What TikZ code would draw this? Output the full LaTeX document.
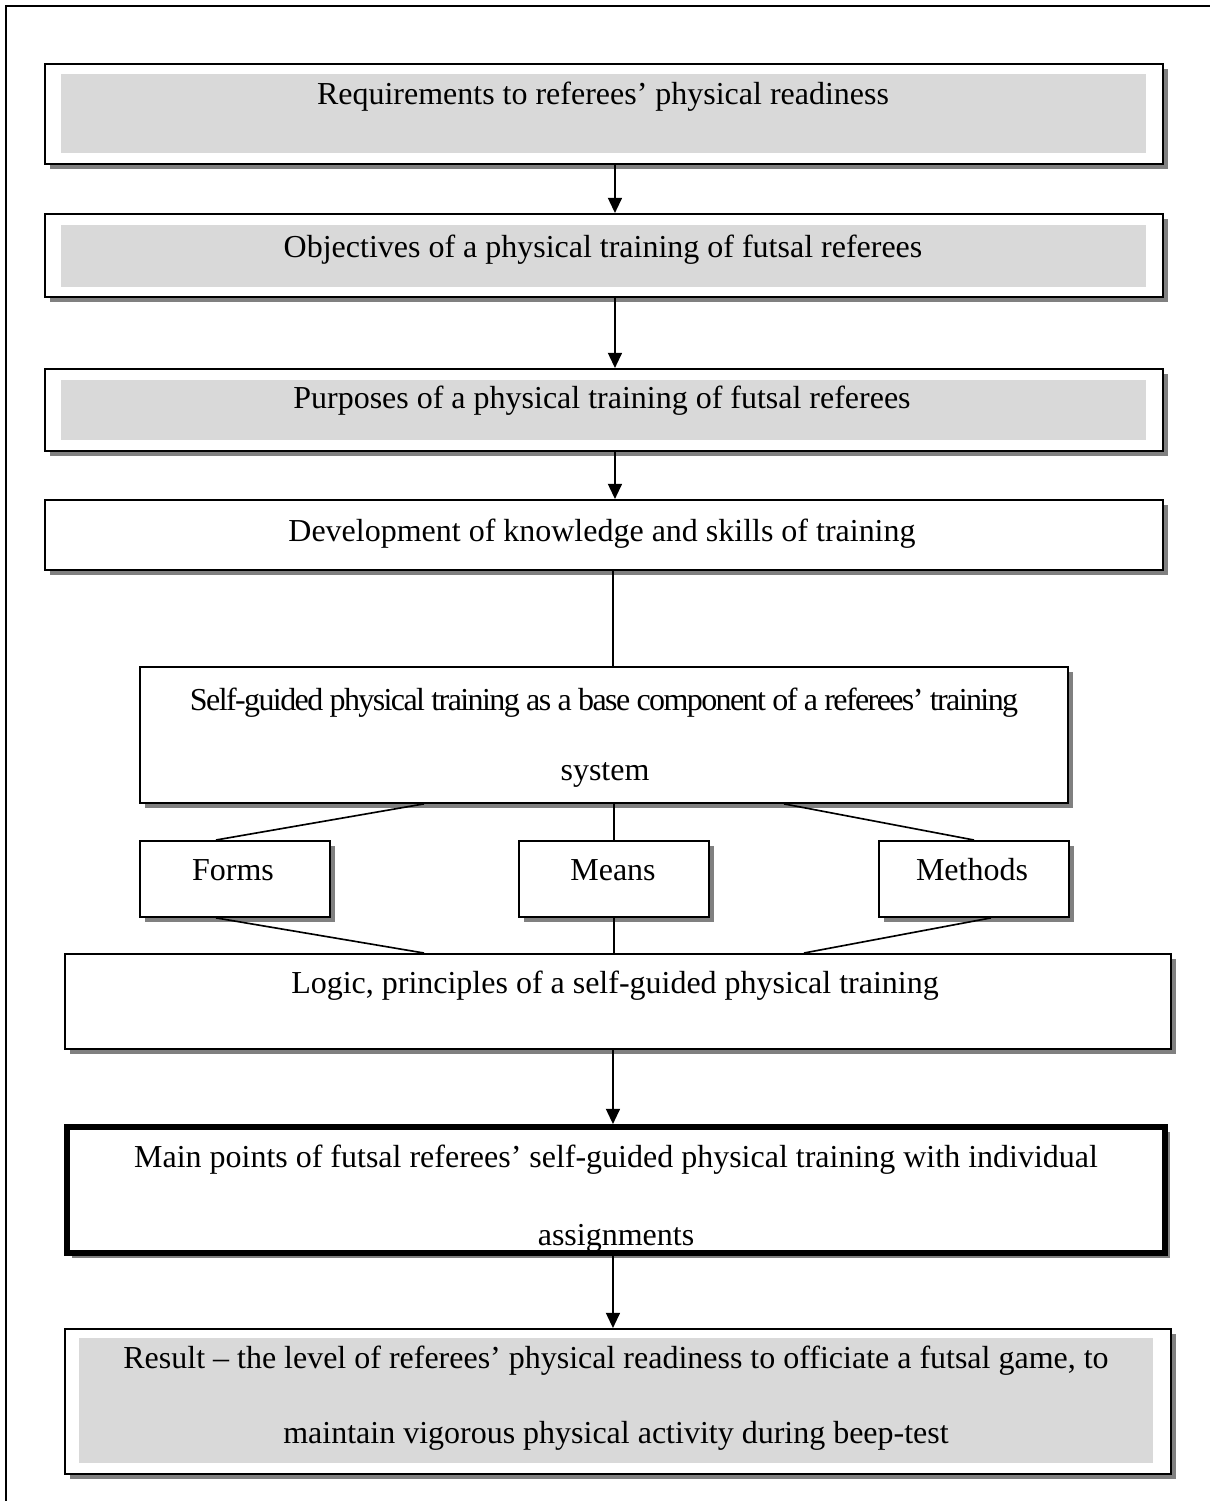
\documentclass[tikz,border=0pt]{standalone}
\usepackage{fontspec}
\setmainfont{Liberation Serif}
\usetikzlibrary{arrows.meta,shadows}

\tikzset{
  box/.style={draw, line width=1.6pt, fill=white, anchor=north west, inner sep=0pt,
    drop shadow={shadow xshift=0.15cm, shadow yshift=-0.15cm, fill=black!50, opacity=1}},
  thickbox/.style={box, line width=5pt},
  txt/.style={anchor=base, inner sep=0pt, font=\fontsize{27.3}{33}\selectfont},
  arr/.style={-{Triangle[length=13pt,width=12pt]}, line width=1.4pt},
  link/.style={line width=1.4pt}
}

\begin{document}
\begin{tikzpicture}[x=0.03cm,y=-0.03cm]
  \useasboundingbox (0,0) rectangle (1210,1501);
  \draw[line width=2pt] (6,1501) -- (6,6) -- (1210,6);

  % boxes
  \node[box, minimum width=33.54cm, minimum height=3.0cm] (req) at (44,63) {};
  \node[box, minimum width=33.54cm, minimum height=2.5cm] (obj) at (44,213) {};
  \node[box, minimum width=33.54cm, minimum height=2.46cm] (pur) at (44,368) {};
  \node[box, minimum width=33.54cm, minimum height=2.1cm] (dev) at (44,499) {};
  \node[box, minimum width=27.84cm, minimum height=4.08cm] (sgt) at (139,666) {};
  \node[box, minimum width=5.7cm, minimum height=2.28cm] (forms) at (139,840) {};
  \node[box, minimum width=5.7cm, minimum height=2.28cm] (means) at (518,840) {};
  \node[box, minimum width=5.7cm, minimum height=2.28cm] (methods) at (878,840) {};
  \node[box, minimum width=33.18cm, minimum height=2.85cm] (logic) at (64,953) {};
  \node[thickbox, minimum width=32.95cm, minimum height=3.78cm] (main) at (64,1124) {};
  \node[box, minimum width=33.18cm, minimum height=4.35cm] (res) at (64,1328) {};

  % gray panels
  \fill[black!15] (61,74) rectangle (1146,153);
  \fill[black!15] (61,225) rectangle (1146,287);
  \fill[black!15] (61,380) rectangle (1146,440);
  \fill[black!15] (79,1338) rectangle (1153,1463);

  % texts
  \node[txt] (treq) at (603,104) {Requirements to referees’ physical readiness};
  \node[txt] (tobj) at (603,257) {Objectives of a physical training of futsal referees};
  \node[txt] (tpur) at (602,408) {Purposes of a physical training of futsal referees};
  \node[txt] (tdev) at (602,541) {Development of knowledge and skills of training};
  \node[txt] (tsgt) at (604,710) {\addfontfeature{LetterSpace=-5}Self-guided physical training as a base component of a referees’ training};
  \node[txt] (tsys) at (605,780) {system};
  \node[txt] (tforms) at (233,880) {Forms};
  \node[txt] (tmeans) at (613,880) {Means};
  \node[txt] (tmethods) at (972,880) {Methods};
  \node[txt] (tlogic) at (615,993) {Logic, principles of a self-guided physical training};
  \node[txt] (tmain) at (616,1167) {Main points of futsal referees’ self-guided physical training with individual};
  \node[txt] (tassign) at (616,1245) {assignments};
  \node[txt] (tres) at (616,1368) {Result – the level of referees’ physical readiness to officiate a futsal game, to};
  \node[txt] (tmaint) at (616,1443) {maintain vigorous physical activity during beep-test};

  % connectors
  \draw[arr] ([xshift=0.33cm]req.south) -- ([xshift=0.33cm]obj.north);
  \draw[arr] ([xshift=0.33cm]obj.south) -- ([xshift=0.33cm]pur.north);
  \draw[arr] ([xshift=0.33cm]pur.south) -- ([xshift=0.33cm]dev.north);
  \draw[link] ([xshift=0.27cm]dev.south) -- ([xshift=0.27cm]sgt.north);
  \draw[link] ([xshift=-5.4cm]sgt.south) -- ([xshift=-0.57cm]forms.north);
  \draw[link] (means.north |- sgt.south) -- (means.north);
  \draw[link] ([xshift=5.4cm]sgt.south) -- (methods.north);
  \draw[link] ([xshift=-0.57cm]forms.south) -- ([xshift=-5.82cm]logic.north);
  \draw[link] (means.south) -- (means.south |- logic.north);
  \draw[link] ([xshift=0.51cm]methods.south) -- ([xshift=5.58cm]logic.north);
  \draw[arr] ([xshift=-0.15cm]logic.south) -- ([xshift=-0.15cm]logic.south |- main.north);
  \draw[arr] ([xshift=-0.15cm]res.north |- main.south) -- ([xshift=-0.15cm]res.north);
\end{tikzpicture}
\end{document}
